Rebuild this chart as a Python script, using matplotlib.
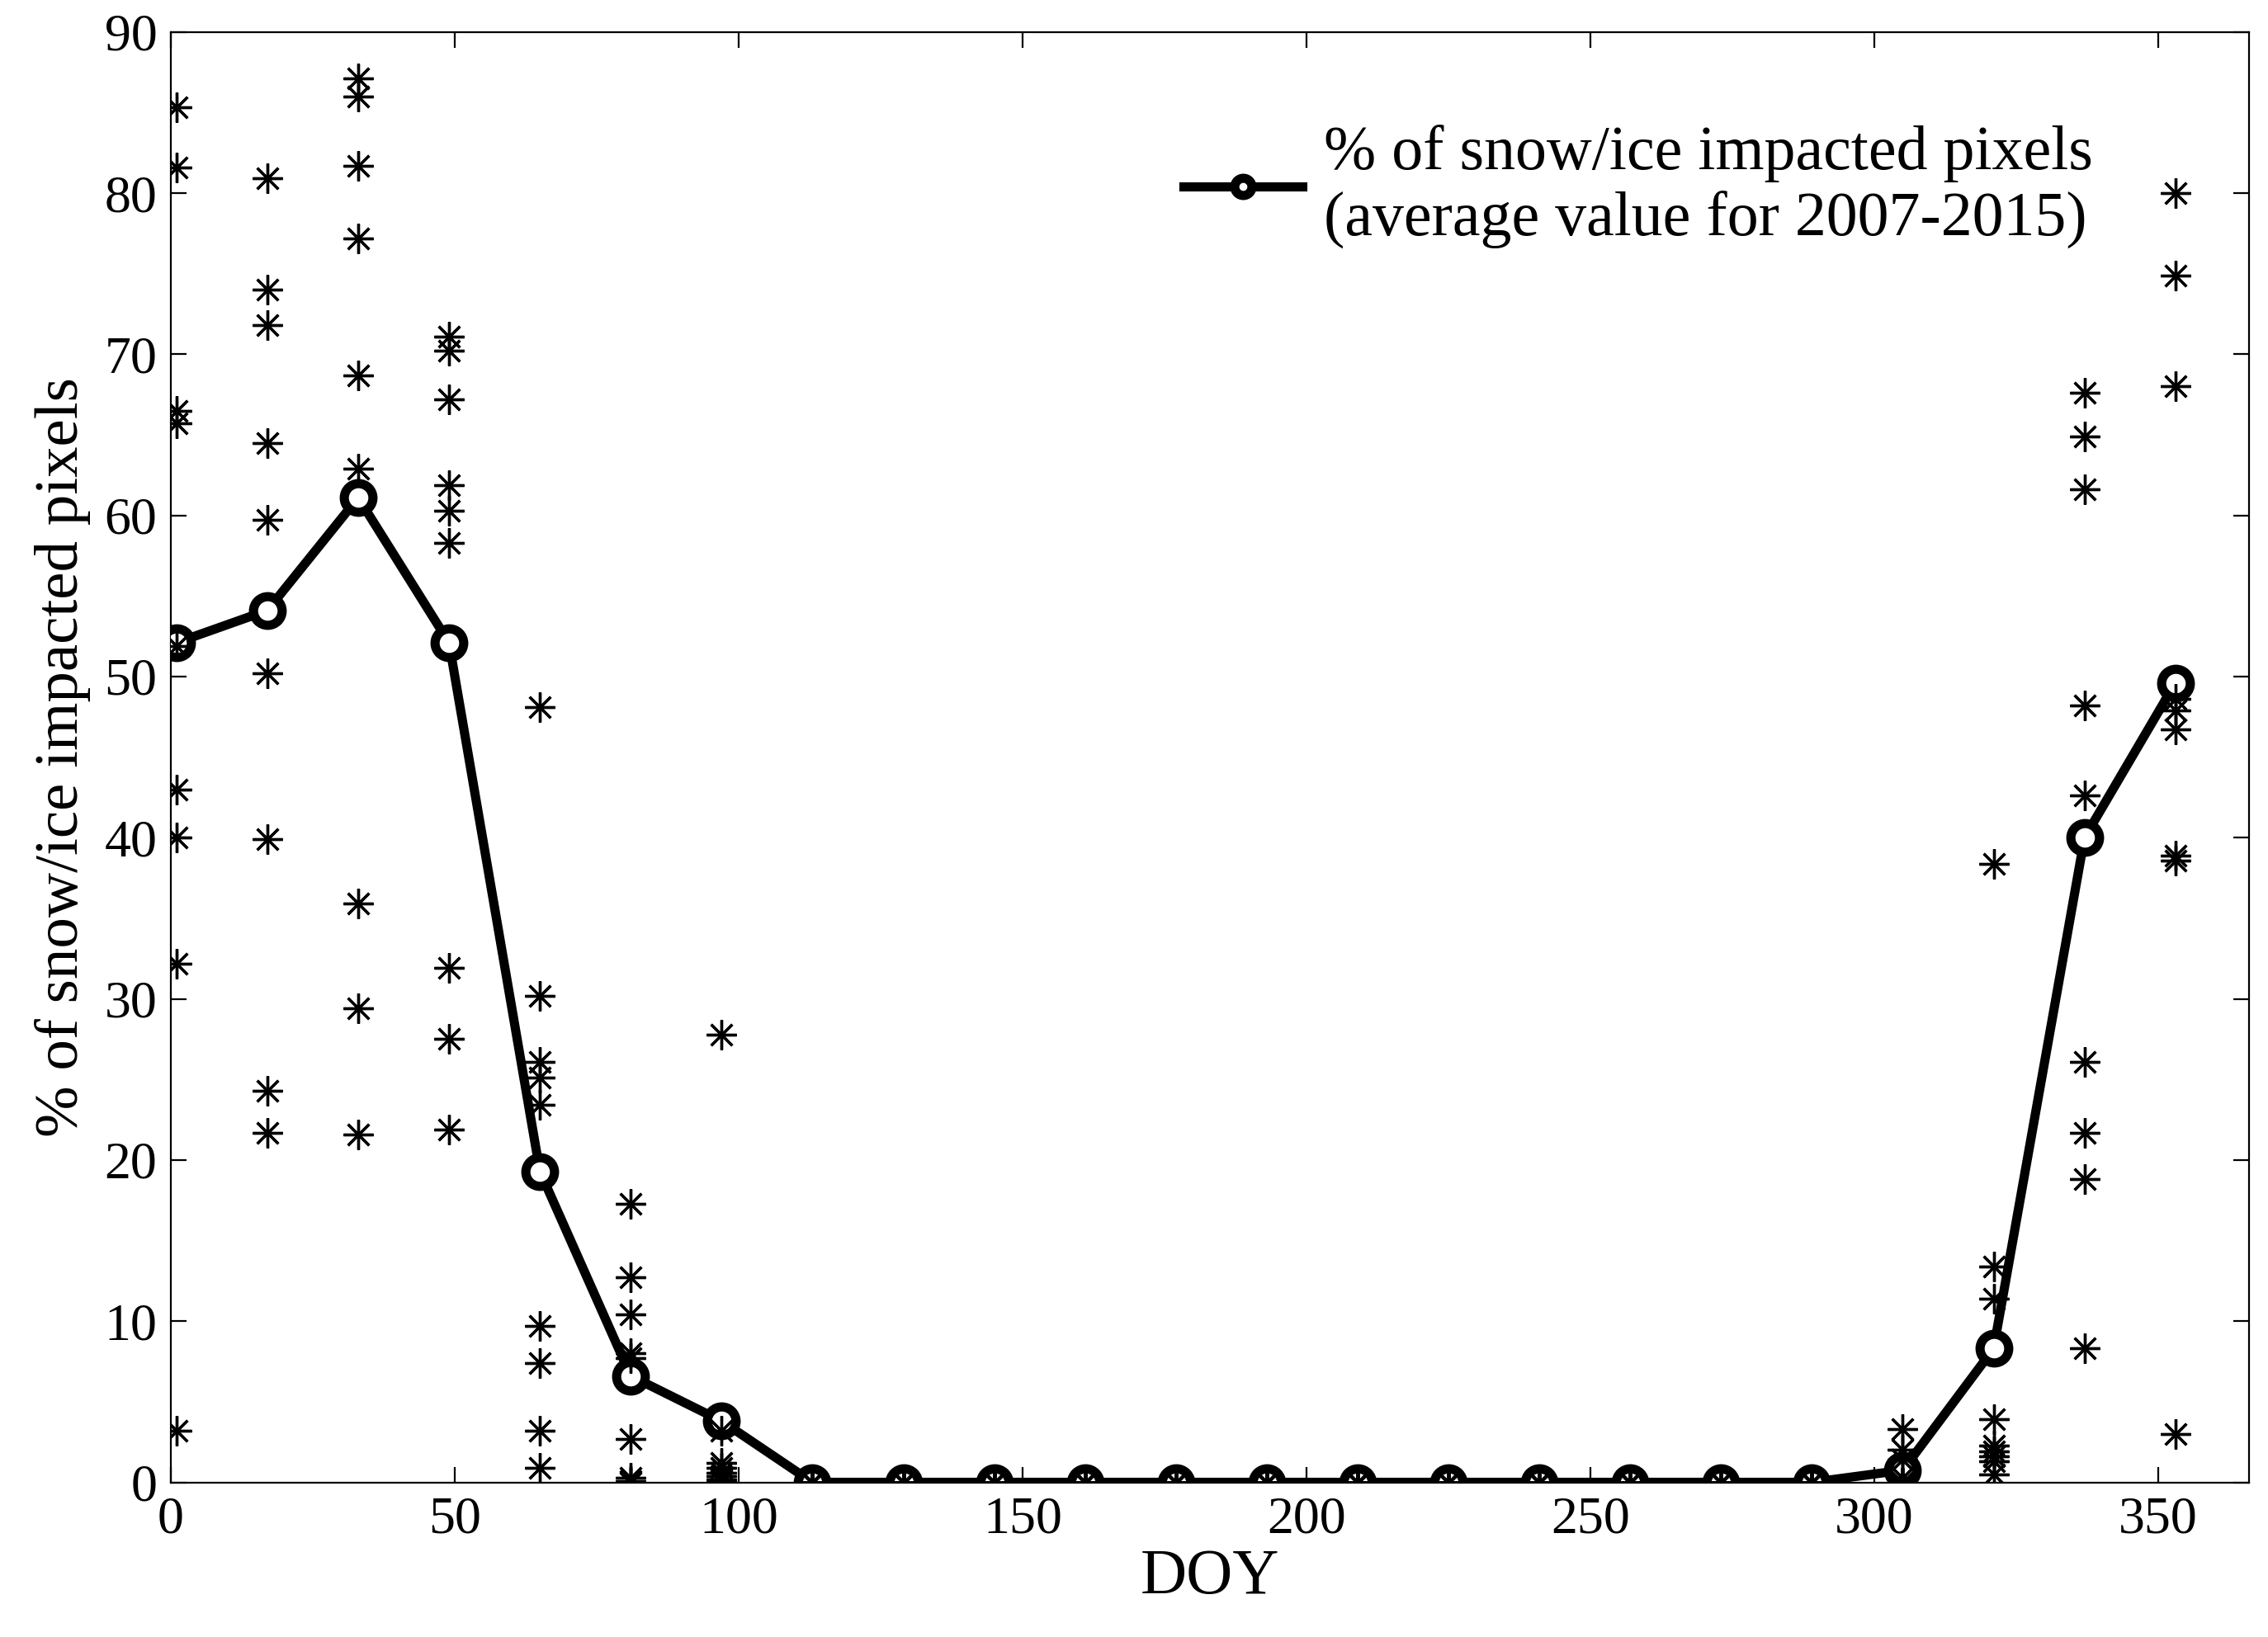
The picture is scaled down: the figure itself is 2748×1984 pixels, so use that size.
import numpy as np
import matplotlib
matplotlib.use("Agg")
import matplotlib.pyplot as plt

plt.rcParams['font.family'] = ['Liberation Serif', 'DejaVu Serif']

# Day of year of each 16-day composite
doy = [1, 17, 33, 49, 65, 81, 97, 113, 129, 145, 161, 177, 193, 209,
       225, 241, 257, 273, 289, 305, 321, 337, 353]

# Average value for 2007-2015 (%)
mean_pct = [52.1, 54.1, 61.1, 52.1, 19.3, 6.6, 3.8, 0.0, 0.0, 0.0, 0.0, 0.0,
            0.0, 0.0, 0.0, 0.0, 0.0, 0.0, 0.0, 0.75, 8.3, 40.0, 49.6]

# Yearly values (9 years, 2007-2015) at each DOY (%)
yearly_pct = [
    [85.3, 81.6, 66.5, 65.7, 51.9, 43.0, 40.0, 32.2, 3.2],
    [80.9, 74.0, 71.8, 64.5, 59.7, 50.2, 39.9, 24.3, 21.7],
    [87.1, 86.0, 81.7, 77.2, 68.7, 62.9, 35.9, 29.4, 21.6],
    [71.1, 70.2, 67.2, 61.9, 60.3, 58.3, 31.9, 27.5, 21.9],
    [48.1, 30.2, 26.1, 25.1, 23.4, 9.7, 7.4, 3.2, 0.9],
    [17.3, 12.7, 10.4, 8.0, 7.7, 2.7, 0.3, 0.1, 0.0],
    [27.8, 3.2, 1.2, 0.9, 0.6, 0.4, 0.2, 0.1, 0.0],
    [0.0] * 9, [0.0] * 9, [0.0] * 9, [0.0] * 9, [0.0] * 9, [0.0] * 9,
    [0.0] * 9, [0.0] * 9, [0.0] * 9, [0.0] * 9, [0.0] * 9, [0.0] * 9,
    [3.3, 2.0, 1.4, 0.3, 0.0, 0.0, 0.0, 0.0, 0.0],
    [38.4, 13.4, 11.4, 3.9, 2.3, 1.9, 1.6, 1.3, 0.5],
    [67.6, 64.9, 61.6, 48.2, 42.6, 26.1, 21.7, 18.8, 8.3],
    [80.0, 74.9, 68.0, 48.6, 47.9, 46.7, 38.9, 38.6, 3.0],
]

x_ticks = [0, 50, 100, 150, 200, 250, 300, 350]
y_ticks = [0, 10, 20, 30, 40, 50, 60, 70, 80, 90]

fig = plt.figure(figsize=(13.74, 9.92), dpi=200)
ax = fig.add_axes([0.0753, 0.0945, 0.9164, 0.886])

ax.plot(doy, mean_pct, color='black', lw=4, marker='o', ms=12.5, mew=4,
        mfc='white', mec='black', zorder=3,
        label='% of snow/ice impacted pixels\n(average value for 2007-2015)')

for d, vals in zip(doy, yearly_pct):
    ax.plot([d] * len(vals), vals, linestyle='none', marker=(8, 2, 0),
            ms=13, mew=1.2, color='black', zorder=4)

ax.set_xlim(0, 366)
ax.set_ylim(0, 90)
ax.set_xticks(x_ticks)
ax.set_yticks(y_ticks)
ax.tick_params(direction='in', length=7, width=0.8, top=True, right=True,
               labelsize=23, pad=6)
for s in ax.spines.values():
    s.set_linewidth(0.8)

ax.set_xlabel('DOY', fontsize=28, labelpad=2)
ax.set_ylabel('% of snow/ice impacted pixels', fontsize=27, labelpad=6)

leg = ax.legend(loc='upper right', bbox_to_anchor=(0.952, 0.975),
                frameon=False, fontsize=27.3, handlelength=1.9,
                handletextpad=0.35, numpoints=1, markerscale=0.6)

fig.savefig('out.png', dpi=200)
